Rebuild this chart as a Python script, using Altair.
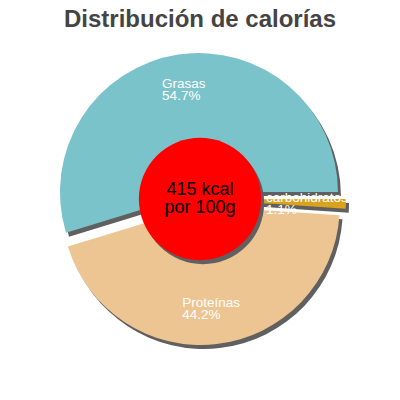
import math
import altair as alt
import pandas as pd

# ---- data ----
categories = ["Grasas", "carbohidratos", "Proteínas"]
percents = [54.7, 1.1, 44.2]
kcal = 415
center_lines = ["415 kcal", "por 100g"]
title_text = "Distribución de calorías"

# ---- style ----
colors = {"Grasas": "#7AC3CB", "carbohidratos": "#D9A31F", "Proteínas": "#EDC592"}
label_shift = {"Grasas": (-22, -5), "carbohidratos": (-41, -1), "Proteínas": (-30, 2)}
START_DEG = 253.0
EXPLODE = 7.0
OUTER_R = 139
LABEL_R = 100
SHADOW = (3, 4)
SHADOW_COLOR = "#606060"
FONT = "Liberation Sans"

start = [sum(percents[:i]) for i in range(len(percents))]
end = [s + p for s, p in zip(start, percents)]
mid = [(s + e) / 2 for s, e in zip(start, end)]
df = pd.DataFrame({
    "cat": categories,
    "pct": percents,
    "start": start,
    "end": end,
    "mid": mid,
    "label": [f"{c}\n{p}%" for c, p in zip(categories, percents)],
})

a0 = math.radians(START_DEG)
theta_scale = alt.Scale(domain=[0, 100], range=[a0, a0 + 2 * math.pi])

base = alt.Chart(df)

shadow_layers, slice_layers, label_layers = [], [], []
for c, m in zip(categories, mid):
    ang = math.radians(START_DEG + m * 3.6)
    ox = EXPLODE * math.sin(ang)
    oy = -EXPLODE * math.cos(ang)
    sub = base.transform_filter(alt.datum.cat == c)
    shadow_layers.append(
        sub.mark_arc(outerRadius=OUTER_R, color=SHADOW_COLOR,
                     xOffset=ox + SHADOW[0], yOffset=oy + SHADOW[1]).encode(
            theta=alt.Theta("start:Q", scale=theta_scale),
            theta2="end:Q",
        )
    )
    slice_layers.append(
        sub.mark_arc(outerRadius=OUTER_R, color=colors[c],
                     xOffset=ox, yOffset=oy).encode(
            theta=alt.Theta("start:Q", scale=theta_scale),
            theta2="end:Q",
        )
    )
    dx, dy = label_shift[c]
    label_layers.append(
        sub.mark_text(radius=LABEL_R, xOffset=ox, yOffset=oy, dx=dx, dy=dy,
                      align="left", baseline="alphabetic", lineBreak="\n",
                      font=FONT, fontSize=13.5, lineHeight=12, color="white").encode(
            theta=alt.Theta("mid:Q", scale=theta_scale),
            text="label:N",
        )
    )

center_df = pd.DataFrame({"kcal": [kcal], "txt": ["\n".join(center_lines)]})
center = alt.Chart(center_df)
red_area = math.pi * 69 ** 2
red_shadow = center.mark_circle(size=red_area, color=SHADOW_COLOR, opacity=1,
                                xOffset=SHADOW[0], yOffset=SHADOW[1]).encode(
    tooltip="kcal:Q")
red = center.mark_circle(size=red_area, color="#FF0000", opacity=1).encode(
    tooltip="kcal:Q")
center_text = center.mark_text(font=FONT, fontSize=18, lineHeight=18, color="black",
                               align="center", baseline="alphabetic", lineBreak="\n",
                               dy=-4).encode(text="txt:N")

chart = alt.layer(
    *shadow_layers, *slice_layers, *label_layers, red_shadow, red, center_text
).properties(
    width=384,
    height=302,
    padding={"top": 40, "left": 0, "right": 0, "bottom": 0},
    autosize=alt.AutoSizeParams(type="none"),
    title=alt.TitleParams(title_text, font=FONT, fontSize=24, fontWeight="bold",
                          color="#444444", anchor="middle", offset=16),
).configure_view(stroke=None).configure(background="white")

chart.save("out.html", embed_options={"renderer": "svg", "actions": False})
